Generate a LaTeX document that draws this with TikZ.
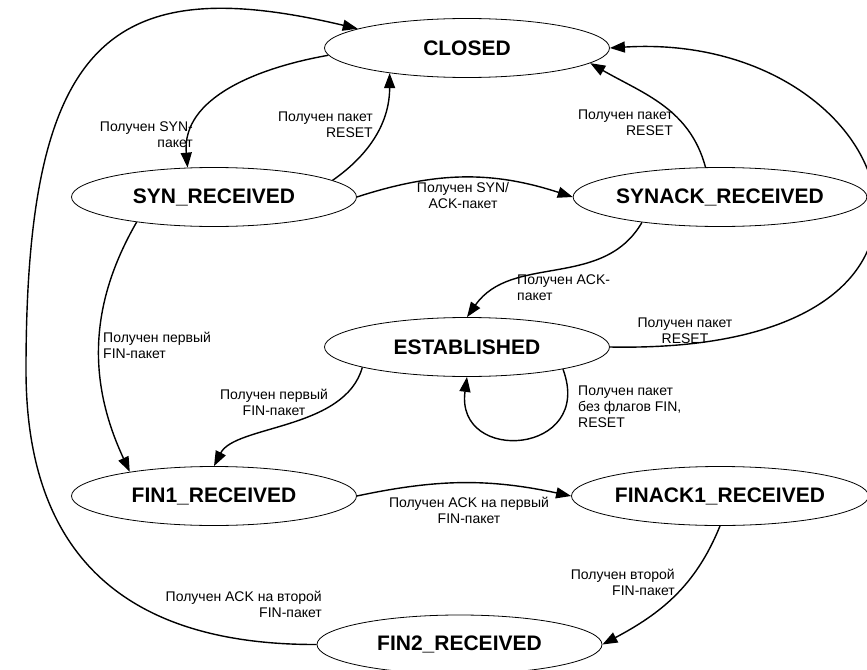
\documentclass[tikz,border=0pt]{standalone}
\usepackage{fontspec}
\setmainfont{Liberation Sans}
\usetikzlibrary{shapes.geometric,arrows.meta}

\begin{document}
\begin{tikzpicture}[x=1pt,y=1pt,
  state/.style={ellipse,draw,line width=0.8pt,minimum width=285pt,minimum height=59pt,
    inner sep=0pt,font=\bfseries\fontsize{21}{24}\selectfont},
  lbl/.style={inner sep=0pt,font=\fontsize{14}{16}\selectfont},
  trans/.style={line width=1.4pt,-{Triangle[length=15pt,width=11pt]}}]
\useasboundingbox (0,0) rectangle (867,-669);
% states
\node[state] (closed) at (467,-48) {CLOSED};
\node[state] (syn) at (214,-197) {SYN\_RECEIVED};
\node[state] (synack) at (720,-197) {SYNACK\_RECEIVED};
\node[state] (estab) at (467,-347) {ESTABLISHED};
\node[state] (fin1) at (214,-496) {FIN1\_RECEIVED};
\node[state] (finack1) at (720,-496) {FINACK1\_RECEIVED};
\node[state] (fin2) at (459.5,-644.5) {FIN2\_RECEIVED};
\coordinate (leftbend) at (26,-370);
% transitions
\draw[trans] (closed.183) to[out=190,in=95] (syn.132);
\draw[trans] (syn.8) to[out=35,in=-90] (closed.198);
\draw[trans] (syn.east) to[out=18,in=162] (synack.west);
\draw[trans] (synack.116) to[out=105,in=-30] (closed.-7);
\draw[trans] (synack.198) to[out=240,in=55] (estab.north);
\draw[trans] (estab.east) .. controls (1020,-355) and (900,-30) .. (closed.east);
\draw[trans] (estab.-13) .. controls (595,-455) and (455,-465) .. (estab.south);
\draw[trans] (estab.191) .. controls (345,-430) and (235,-425) .. (fin1.north);
\draw[trans] (syn.198) to[out=240,in=115] (fin1.164);
\draw[trans] (fin1.east) to[out=12,in=168] (finack1.west);
\draw[trans] (finack1.south) to[out=-112,in=28] (fin2.east);
\draw[trans] (fin2.west) .. controls (125,-645) and (26,-555) .. (leftbend)
  .. controls (26,-40) and (110,30) .. (closed.170);
% labels
\node[lbl,anchor=north east,align=right] (l1) at (193,-122) {Получен SYN-\\пакет};
\node[lbl,anchor=north east,align=right] (l2) at (373,-112) {Получен пакет\\RESET};
\node[lbl,anchor=north,align=center] (l3) at (463,-182) {Получен SYN/\\ACK-пакет};
\node[lbl,anchor=north east,align=right] (l4) at (673,-110) {Получен пакет\\RESET};
\node[lbl,anchor=north west,align=left] (l5) at (517,-275) {Получен ACK-\\пакет};
\node[lbl,anchor=north,align=center] (l6) at (685,-318) {Получен пакет\\RESET};
\node[lbl,anchor=north west,align=left] (l7) at (578,-386) {Получен пакет\\без флагов FIN,\\RESET};
\node[lbl,anchor=north,align=center] (l8) at (274,-389) {Получен первый\\FIN-пакет};
\node[lbl,anchor=north west,align=left] (l9) at (103,-332) {Получен первый\\FIN-пакет};
\node[lbl,anchor=north,align=center] (l10) at (469,-497) {Получен ACK на первый\\FIN-пакет};
\node[lbl,anchor=north east,align=right] (l11) at (675,-569) {Получен второй\\FIN-пакет};
\node[lbl,anchor=north east,align=right] (l12) at (322,-591) {Получен ACK на второй\\FIN-пакет};
\end{tikzpicture}
\end{document}
